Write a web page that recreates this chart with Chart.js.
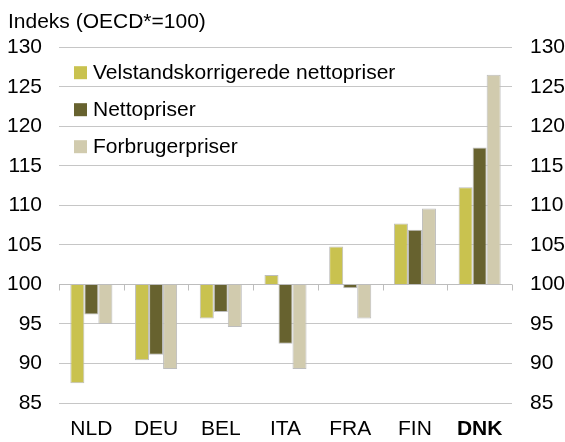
<!DOCTYPE html>
<html>
<head>
<meta charset="utf-8">
<script src="https://cdn.jsdelivr.net/npm/chart.js@4/dist/chart.umd.min.js"></script>
<style>
  body { margin: 0; background: #fff; }
  #wrap { width: 565px; height: 442px; position: relative; }
</style>
</head>
<body>
<div id="wrap"><canvas id="priceChart"></canvas></div>
<script>
var countries = ['NLD', 'DEU', 'BEL', 'ITA', 'FRA', 'FIN', 'DNK'];
var velstand = [87.5, 90.4, 95.7, 101.2, 104.8, 107.7, 112.3];
var netto = [96.2, 91.1, 96.5, 92.5, 99.5, 106.9, 117.3];
var forbruger = [95.0, 89.3, 94.6, 89.3, 95.7, 109.6, 126.5];
var seriesNames = ['Velstandskorrigerede nettopriser', 'Nettopriser', 'Forbrugerpriser'];

var FONT = "'Liberation Sans', Arial, sans-serif";
var FS = 21;
Chart.defaults.font.family = FONT;
Chart.defaults.color = '#000';

// axis line at 100 with small tick marks between the countries
var baseLine = {
  id: 'baseLine',
  beforeDatasetsDraw: function (chart) {
    var x = chart.scales.x, y = chart.scales.y;
    var ctx = chart.ctx;
    var yp = Math.round(y.getPixelForValue(100)) + 0.5;
    var step = (x.right - x.left) / countries.length;
    ctx.save();
    ctx.strokeStyle = '#bdbdbd';
    ctx.lineWidth = 1;
    ctx.beginPath();
    ctx.moveTo(x.left, yp);
    ctx.lineTo(x.right, yp);
    for (var i = 0; i <= countries.length; i++) {
      var xp = Math.round(x.left + i * step) + 0.5;
      ctx.moveTo(xp, yp);
      ctx.lineTo(xp, yp + 6);
    }
    ctx.stroke();
    ctx.restore();
  }
};

// legend inside the plot, top left, one item per row
var innerLegend = {
  id: 'innerLegend',
  afterDraw: function (chart) {
    var ctx = chart.ctx;
    var area = chart.chartArea;
    ctx.save();
    ctx.font = FS + 'px ' + FONT;
    ctx.textBaseline = 'middle';
    chart.data.datasets.forEach(function (ds, i) {
      var cy = area.top + 25 + i * 37;
      ctx.fillStyle = ds.backgroundColor;
      ctx.fillRect(area.left + 15, cy - 6, 13, 13);
      ctx.fillStyle = '#000';
      ctx.fillText(ds.label, area.left + 34, cy + 1);
    });
    ctx.restore();
  }
};

var ctx = document.getElementById('priceChart').getContext('2d');
var chart = new Chart(ctx, {
  type: 'bar',
  data: {
    labels: countries,
    datasets: [{
      label: seriesNames[0],
      data: velstand,
      base: 100,
      backgroundColor: '#c9c24f',
      borderColor: '#bdbdbd',
      borderWidth: 1
    }, {
      label: seriesNames[1],
      data: netto,
      base: 100,
      backgroundColor: '#67622f',
      borderColor: '#bdbdbd',
      borderWidth: 1
    }, {
      label: seriesNames[2],
      data: forbruger,
      base: 100,
      backgroundColor: '#d1cbae',
      borderColor: '#bdbdbd',
      borderWidth: 1
    }]
  },
  options: {
    responsive: true,
    maintainAspectRatio: false,
    animation: false,
    categoryPercentage: 0.65,
    barPercentage: 1.0,
    layout: { padding: { left: 8, right: 0, top: 0, bottom: 0 } },
    plugins: {
      title: {
        display: true,
        text: 'Indeks (OECD*=100)',
        align: 'start',
        color: '#000',
        font: { size: FS, weight: 'normal' },
        padding: { top: 10, bottom: 12 }
      },
      legend: { display: false },
      tooltip: { enabled: false }
    },
    scales: {
      x: {
        afterFit: function (s) { s.height = 39; },
        grid: { display: false, drawTicks: false },
        border: { display: false },
        ticks: {
          padding: 14,
          color: '#000',
          font: function (c) {
            return { size: FS, weight: c.index === 6 ? 'bold' : 'normal' };
          }
        }
      },
      y: {
        position: 'left',
        min: 85,
        max: 130,
        afterFit: function (s) { s.width = 51; },
        grid: { color: '#c6c6c6', drawTicks: false },
        border: { display: false },
        ticks: { stepSize: 5, padding: 17, color: '#000', font: { size: FS } }
      },
      y2: {
        position: 'right',
        min: 85,
        max: 130,
        afterFit: function (s) { s.width = 53; },
        grid: { display: false, drawTicks: false },
        border: { display: false },
        ticks: { stepSize: 5, padding: 18, color: '#000', font: { size: FS } }
      }
    }
  },
  plugins: [baseLine, innerLegend]
});
</script>
</body>
</html>
